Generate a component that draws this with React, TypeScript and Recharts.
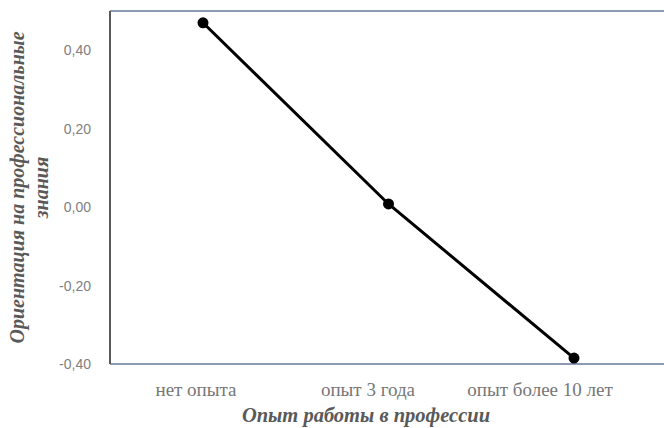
import React from "react";
import { LineChart, Line, XAxis, YAxis, ReferenceLine } from "recharts";

const categories = ["нет опыта", "опыт 3 года", "опыт более 10 лет"];
const values = [0.47, 0.008, -0.385];
const yTicks = [-0.4, -0.2, 0, 0.2, 0.4];
const yDomain = [-0.4, 0.5];
const xTitle = "Опыт работы в профессии";
const yTitleLines = ["Ориентация на профессиональные", "знания"];

const data = categories.map((c, i) => ({ cat: c, v: values[i] }));

const fmt = (v: number) => v.toFixed(2).replace(".", ",");

const YTitle = (props: any) => {
  const vb = props.viewBox || { x: 0, y: 11, width: 110, height: 353 };
  const cy = vb.y + vb.height / 2;
  const xs = [24, 48];
  return (
    <g>
      {yTitleLines.map((t, i) => (
        <text
          key={i}
          x={xs[i]}
          y={cy}
          transform={`rotate(-90, ${xs[i]}, ${cy})`}
          textAnchor="middle"
          fontFamily="Liberation Serif"
          fontStyle="italic"
          fontWeight="bold"
          fontSize={20}
          fill="#595959"
        >
          {t}
        </text>
      ))}
    </g>
  );
};

const XTitle = () => (
  <text
    x={366}
    y={422}
    textAnchor="middle"
    fontFamily="Liberation Serif"
    fontStyle="italic"
    fontWeight="bold"
    fontSize={20.5}
    fill="#595959"
  >
    {xTitle}
  </text>
);

export default function App() {
  return (
    <div style={{ position: "absolute", left: 0, top: 0, width: 664, height: 428, overflow: "hidden", background: "#fff" }}>
      <LineChart width={680} height={428} data={data} margin={{ top: 11, right: 13, bottom: 0, left: 0 }}>
        <XAxis dataKey="cat" xAxisId="main" hide padding={{ left: 93, right: 93 }} />
        <XAxis
          dataKey="cat"
          xAxisId="lab"
          height={64}
          padding={{ left: 86, right: 127 }}
          axisLine={{ stroke: "#8c9bb3", strokeWidth: 2 }}
          tickLine={false}
          tickSize={6}
          tickMargin={13}
          tick={{ fill: "#767676", fontFamily: "Liberation Serif", fontSize: 19 }}
          interval={0}
          label={<XTitle />}
        />
        <YAxis
          type="number"
          domain={yDomain}
          ticks={yTicks}
          width={110}
          tickFormatter={fmt}
          axisLine={{ stroke: "#595959", strokeWidth: 2 }}
          tickLine={false}
          tickSize={6}
          tickMargin={13}
          tick={{ fill: "#808080", fontFamily: "Liberation Sans", fontSize: 14 }}
          label={<YTitle />}
          allowDataOverflow
        />
        <ReferenceLine y={0.5} xAxisId="main" stroke="#8c9bb3" strokeWidth={2} />
        <Line
          xAxisId="main"
          dataKey="v"
          stroke="#000"
          strokeWidth={3}
          dot={{ r: 5.5, fill: "#000", stroke: "#000", strokeWidth: 0 }}
          isAnimationActive={false}
        />
      </LineChart>
    </div>
  );
}
